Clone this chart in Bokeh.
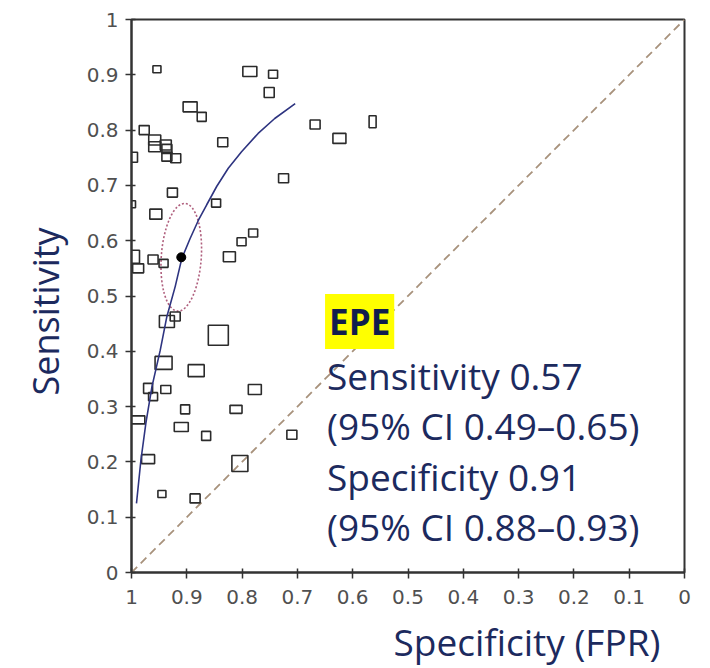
from bokeh.plotting import figure
from bokeh.models import Range1d, FixedTicker, Label, Title
from bokeh.embed import file_html
from bokeh.resources import INLINE

# Study estimates: specificity (x, reversed axis), sensitivity (y), box size (screen px)
study_spec = [0.954, 0.894, 0.873, 0.977, 0.958, 0.958, 0.938, 0.936, 0.936, 0.920,
              1.000, 0.835, 0.926, 0.786, 0.744, 0.751, 0.668, 0.624, 0.564, 0.725,
              1.000, 0.956, 0.847, 1.000, 0.988, 0.961, 0.942, 0.823, 0.801, 0.780,
              0.936, 0.921, 0.843, 0.942, 0.883, 0.970, 0.938, 0.961, 0.903, 0.994,
              0.910, 0.865, 0.970, 0.945, 0.885, 0.777, 0.811, 0.710, 0.804]
study_sens = [0.910, 0.842, 0.824, 0.800, 0.782, 0.770, 0.773, 0.766, 0.752, 0.749,
              0.751, 0.778, 0.687, 0.906, 0.901, 0.868, 0.810, 0.785, 0.815, 0.713,
              0.666, 0.648, 0.668, 0.571, 0.550, 0.566, 0.559, 0.571, 0.598, 0.614,
              0.454, 0.463, 0.429, 0.379, 0.365, 0.333, 0.331, 0.318, 0.295, 0.276,
              0.263, 0.247, 0.205, 0.142, 0.134, 0.331, 0.295, 0.249, 0.197]
box_w = [8, 14, 9, 10, 12, 12, 11, 10, 10, 10,
         12, 10, 10, 14, 9, 10, 10, 13, 7, 10,
         8, 12, 9, 16, 11, 10, 9, 12, 9, 9,
         15, 10, 20, 17, 16, 9, 10, 9, 9, 20,
         14, 9, 13, 8, 10, 13, 12, 10, 16]
box_h = [7, 10, 9, 9, 10, 10, 10, 9, 9, 9,
         10, 9, 9, 10, 8, 10, 9, 10, 12, 9,
         7, 10, 8, 13, 9, 9, 8, 10, 8, 8,
         12, 9, 20, 13, 12, 10, 8, 8, 9, 8,
         9, 9, 9, 7, 9, 10, 8, 9, 16]

# SROC curve
sroc_spec = [0.991, 0.983, 0.974, 0.963, 0.948, 0.936, 0.921, 0.909, 0.894, 0.879,
             0.864, 0.846, 0.825, 0.801, 0.771, 0.741, 0.704]
sroc_sens = [0.125, 0.203, 0.270, 0.336, 0.402, 0.463, 0.517, 0.568, 0.604, 0.637,
             0.665, 0.698, 0.731, 0.761, 0.794, 0.821, 0.848]

# Summary point
summ_spec = [0.91]
summ_sens = [0.57]

# Chance line
chance_x = [1.0, 0.0]
chance_y = [0.0, 1.0]

ticks = [0.0, 0.1, 0.2, 0.3, 0.4, 0.5, 0.6, 0.7, 0.8, 0.9, 1.0]
tick_labels = ["0", "0.1", "0.2", "0.3", "0.4", "0.5", "0.6", "0.7", "0.8", "0.9", "1"]

legend_title = "EPE"
legend_lines = ["Sensitivity 0.57", "(95% CI 0.49\u20130.65)",
                "Specificity 0.91", "(95% CI 0.88\u20130.93)"]

NAVY = "#1c2a5e"
FONT = "Open Sans"

p = figure(frame_width=553, frame_height=553, output_backend="svg", toolbar_location=None,
           x_range=Range1d(1, 0), y_range=Range1d(0, 1),
           min_border_left=131, min_border_right=24, min_border_top=19, min_border_bottom=92)
p.grid.visible = False
p.background_fill_color = "white"
p.border_fill_color = "white"
p.outline_line_color = "#333333"
p.outline_line_width = 2

overrides = {t: l for t, l in zip(ticks, tick_labels)}
for ax in (p.xaxis[0], p.yaxis[0]):
    ax.ticker = FixedTicker(ticks=ticks)
    ax.major_label_overrides = overrides
    ax.axis_line_color = "#333333"
    ax.axis_line_width = 2
    ax.major_tick_line_color = "#333333"
    ax.major_tick_line_width = 1.5
    ax.major_tick_in = 4
    ax.major_tick_out = 6
    ax.minor_tick_line_color = None
    ax.major_label_text_font = "DejaVu Sans"
    ax.major_label_text_font_size = "20px"
    ax.major_label_text_color = "#505050"
p.yaxis[0].major_label_standoff = 7
p.xaxis[0].major_label_standoff = 11

# Axis titles as side-panel titles
p.add_layout(Title(text="Sensitivity", align="left", offset=177, standoff=27,
                   text_font=FONT, text_font_size="36px", text_font_style="normal",
                   text_color=NAVY), "left")
p.add_layout(Title(text="Specificity (FPR)", align="left", offset=262, standoff=15,
                   text_font=FONT, text_font_size="37px", text_font_style="normal",
                   text_color=NAVY), "below")

# chance diagonal
p.line(chance_x, chance_y, line_color="#a8927c", line_width=1.8, line_dash="8 5")

# confidence ellipse
p.ellipse(x=summ_spec, y=summ_sens, width=40, height=108, width_units="screen",
          height_units="screen", angle=-0.07, fill_color=None,
          line_color="#b0607e", line_width=1.6, line_dash="2 2")

# study boxes
p.rect(x=study_spec, y=study_sens, width=box_w, height=box_h,
       width_units="screen", height_units="screen",
       fill_color=None, line_color="#2b2b2b", line_width=1.6)

# SROC curve
p.line(sroc_spec, sroc_sens, line_color="#2e3480", line_width=1.6)

# summary point
p.scatter(summ_spec, summ_sens, size=9, marker="circle", fill_color="black", line_color="black")

# Legend text
p.add_layout(Label(x=0.6500, y=0.4540, text=legend_title, text_align="left",
                   text_baseline="alphabetic", text_font=FONT, text_font_style="bold",
                   text_font_size="35px", text_color="#111d4d",
                   background_fill_color="#ffff00", padding=4))
base_y = [0.3571, 0.2667, 0.1727, 0.0823]
for txt, by in zip(legend_lines, base_y):
    p.add_layout(Label(x=0.6465, y=by, text=txt, text_align="left",
                       text_baseline="alphabetic", text_font=FONT,
                       text_font_size="37px", text_color=NAVY))

open("out.html", "w").write(file_html(p, INLINE))
